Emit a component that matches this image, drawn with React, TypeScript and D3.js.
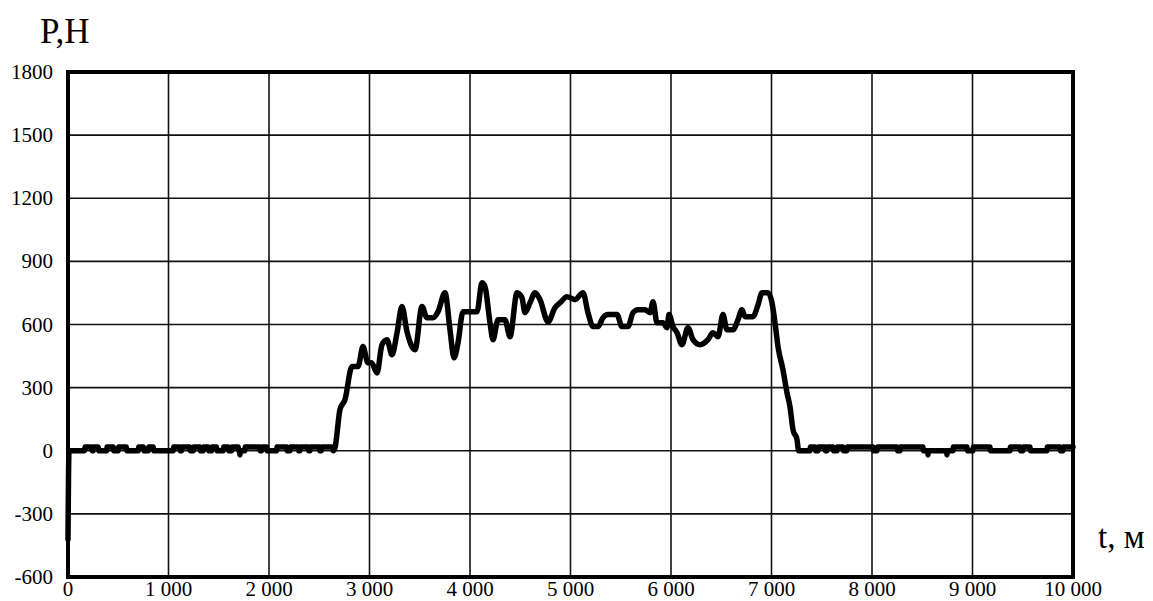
import React, { useEffect, useRef } from 'react';
import * as d3 from 'd3';

// x ticks (t, м) and y ticks (P, H)
const xTicks = [0, 1000, 2000, 3000, 4000, 5000, 6000, 7000, 8000, 9000, 10000];
const yTicks = [-600, -300, 0, 300, 600, 900, 1200, 1500, 1800];

// noise around zero before the load
const startNoise: [number, number][] = [
  [0, -420], [10, 0], [165, 0], [170, 18], [235, 18], [240, 0], [252, 0], [255, 18], [300, 18], [305, 0],
  [385, 0], [388, 18], [450, 18], [455, 0], [500, 0], [503, 18], [580, 18], [585, 0], [700, 0], [703, 18],
  [750, 18], [755, 0], [800, 0], [803, 18], [848, 18], [852, 0], [1048, 0], [1050, 18], [1112, 18], [1116, 0],
  [1130, 0], [1133, 18], [1212, 18], [1216, 0], [1247, 0], [1250, 18], [1312, 18], [1316, 0], [1346, 0], [1349, 18],
  [1395, 18], [1399, 0], [1430, 0], [1433, 18], [1478, 18], [1482, 0], [1545, 0], [1548, 18], [1594, 18], [1598, 0],
  [1628, 0], [1631, 18], [1694, 18], [1698, 0], [1706, 0], [1711, -20], [1716, 0], [1760, 0], [1763, 18], [1908, 18],
  [1912, 0], [1927, 0], [1930, 18], [1976, 18], [1980, 0], [2076, 0], [2079, 18], [2176, 18], [2180, 0], [2209, 0],
  [2212, 18], [2290, 18], [2294, 0], [2308, 0], [2311, 18], [2390, 18], [2394, 0], [2408, 0], [2411, 18], [2500, 18],
  [2505, 0], [2520, 0], [2523, 18], [2627, 18], [2640, 0],
];

// loaded part
const plateau: [number, number][] = [
  [2657, 15], [2706, 195], [2756, 243], [2826, 400], [2886, 400], [2935, 495], [2985, 418], [3020, 418], [3075, 370],
  [3124, 504], [3174, 528], [3224, 456], [3274, 561], [3323, 685], [3373, 566], [3453, 480], [3522, 685], [3572, 632],
  [3632, 632], [3682, 661], [3751, 751], [3801, 575], [3841, 442], [3881, 513], [3930, 661], [4070, 661], [4119, 798],
  [4149, 780], [4199, 608], [4229, 528], [4279, 623], [4348, 623], [4398, 542], [4468, 751], [4517, 727], [4547, 656],
  [4597, 703], [4647, 751], [4697, 718], [4776, 613], [4846, 680], [4896, 703], [4965, 732], [5045, 718], [5124, 751],
  [5174, 656], [5224, 590], [5274, 590], [5323, 632], [5373, 647], [5463, 647], [5512, 590], [5572, 590], [5622, 656],
  [5672, 670], [5741, 670], [5791, 656], [5821, 708], [5861, 608], [5920, 608], [5960, 585], [5980, 647], [6020, 590],
  [6060, 561], [6109, 504], [6169, 585], [6219, 528], [6289, 504], [6368, 528], [6418, 561], [6468, 542], [6517, 647],
  [6557, 575], [6617, 575], [6667, 623], [6706, 670], [6736, 637], [6816, 637], [6866, 694], [6906, 751], [6965, 751],
  [7005, 703], [7035, 608], [7065, 494], [7114, 385], [7154, 276], [7184, 209], [7214, 100], [7254, 52], [7270, 0],
];

// noise around zero after unloading
const endNoise: [number, number][] = [
  [7383, 0], [7386, 18], [7433, 18], [7437, 0], [7463, 0], [7466, 18], [7532, 18], [7536, 0], [7552, 0], [7555, 18],
  [7612, 18], [7616, 0], [7652, 0], [7655, 18], [7711, 18], [7715, 0], [7751, 0], [7754, 18], [8010, 18], [8014, 0],
  [8050, 0], [8053, 18], [8249, 18], [8253, 0], [8279, 0], [8282, 18], [8507, 18], [8511, 0], [8552, 0], [8557, -20],
  [8562, 0], [8741, 0], [8746, -20], [8751, 0], [8806, 0], [8809, 18], [8945, 18], [8949, 0], [9005, 0], [9008, 18],
  [9174, 18], [9178, 0], [9373, 0], [9376, 18], [9473, 18], [9477, 0], [9502, 0], [9505, 18], [9572, 18], [9576, 0],
  [9741, 0], [9744, 18], [9870, 18], [9874, 0], [9900, 0], [9903, 18], [9950, 18], [10000, 18],
];

const W = 1153;
const H = 601;
const FONT = '"Liberation Serif", "Times New Roman", serif';

const App = () => {
  const ref = useRef<SVGSVGElement>(null);

  useEffect(() => {
    if (!ref.current) return;
    const svg = d3.select(ref.current);
    svg.selectAll('*').remove();

    const left = 68, right = 1073, top = 72, bottom = 577;
    const x = d3.scaleLinear().domain([0, 10000]).range([left, right]);
    const y = d3.scaleLinear().domain([-600, 1800]).range([bottom, top]);

    svg.append('rect').attr('width', W).attr('height', H).attr('fill', 'white');

    // grid
    svg.append('g').selectAll('line')
      .data(xTicks.slice(1, -1))
      .join('line')
      .attr('x1', d => x(d)).attr('x2', d => x(d))
      .attr('y1', top).attr('y2', bottom)
      .attr('stroke', '#111').attr('stroke-width', 1.6);
    svg.append('g').selectAll('line')
      .data(yTicks.slice(1, -1))
      .join('line')
      .attr('x1', left).attr('x2', right)
      .attr('y1', d => y(d)).attr('y2', d => y(d))
      .attr('stroke', '#111').attr('stroke-width', 1.6);

    // data line, smoothed a little like the original plot
    const data = [...startNoise, ...plateau, ...endNoise];
    const line = d3.line<[number, number]>()
      .x(d => x(d[0]))
      .y(d => y(d[1]))
      .curve(d3.curveMonotoneX);
    svg.append('path')
      .datum(data)
      .attr('d', line)
      .attr('fill', 'none')
      .attr('stroke', 'black')
      .attr('stroke-width', 5.5)
      .attr('stroke-linejoin', 'round')
      .attr('stroke-linecap', 'round');

    // frame
    svg.append('rect')
      .attr('x', left).attr('y', top)
      .attr('width', right - left).attr('height', bottom - top)
      .attr('fill', 'none').attr('stroke', 'black').attr('stroke-width', 4);

    // y labels
    svg.append('g').selectAll('text')
      .data(yTicks)
      .join('text')
      .attr('x', 53)
      .attr('y', d => y(d) + 7)
      .attr('text-anchor', 'end')
      .attr('font-family', FONT)
      .attr('font-size', 21)
      .text(d => String(d));

    // x labels
    svg.append('g').selectAll('text')
      .data(xTicks)
      .join('text')
      .attr('x', d => x(d))
      .attr('y', 596)
      .attr('text-anchor', 'middle')
      .attr('font-family', FONT)
      .attr('font-size', 21)
      .text(d => d3.format(',')(d).replace(/,/g, ' '));

    svg.append('text')
      .attr('x', 40).attr('y', 43)
      .attr('font-family', FONT).attr('font-size', 35)
      .text('P,H');

    svg.append('text')
      .attr('x', 1098).attr('y', 548)
      .attr('font-family', FONT).attr('font-size', 33)
      .text('t, м');
  }, []);

  return (
    <svg ref={ref} width={W} height={H}
      style={{ position: 'absolute', left: 0, top: 0, display: 'block' }} />
  );
};

export default App;
